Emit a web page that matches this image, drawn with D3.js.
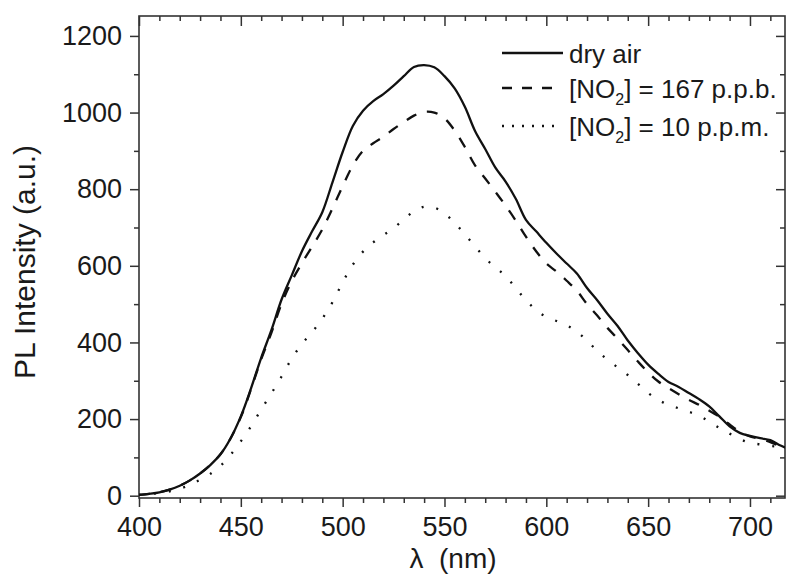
<!DOCTYPE html>
<html>
<head>
<meta charset="utf-8">
<script src="https://cdn.jsdelivr.net/npm/d3@7/dist/d3.min.js"></script>
<style>
  html, body { margin: 0; padding: 0; background: #fff; }
  svg { display: block; }
  text { font-family: "Liberation Sans", Arial, sans-serif; fill: #1a1a1a; }
</style>
</head>
<body>
<div id="chart"></div>
<script>
// ---- data ----
const wavelengths = [400,405,410,415,420,425,430,435,440,445,450,455,460,465,470,475,480,485,490,495,
  500,505,510,515,520,525,530,535,540,545,550,555,560,565,570,575,580,585,590,595,
  600,605,610,615,620,625,630,635,640,645,650,655,660,665,670,675,680,685,690,695,
  700,705,710,715,720];

const dryAir = [2,5,9,16,26,40,58,80,108,150,207,280,360,432,512,575,638,690,740,818,
  897,965,1005,1030,1048,1070,1095,1119,1124,1118,1095,1063,1015,952,905,856,820,775,720,690,
  660,632,606,580,542,510,475,443,405,372,342,318,297,284,268,252,233,207,181,164,
  156,150,145,131,120];

const no2_167ppb = [2,5,9,16,26,40,58,80,108,150,205,278,356,425,501,560,607,650,695,750,
  808,862,900,920,937,957,975,992,1002,1000,985,953,910,862,828,793,757,718,676,638,
  606,585,561,535,500,470,438,410,380,350,322,298,281,265,250,237,222,206,186,167,
  155,148,140,128,118];

const no2_10ppm = [2,4,7,11,18,28,42,57,78,107,142,181,225,267,311,358,396,427,462,505,
  557,603,637,661,680,698,721,742,754,752,737,712,682,651,620,596,573,542,510,485,
  466,456,445,428,405,378,355,335,315,292,268,250,237,228,219,209,193,177,162,148,
  138,134,130,127,120];

const xTicks = [400,450,500,550,600,650,700];
const yTicks = [0,200,400,600,800,1000,1200];
const seriesNames = ["dry air", "[NO2] = 167 p.p.b.", "[NO2] = 10 p.p.m."];

// ---- layout ----
const W = 786, H = 578;
const mLeft = 139, mRight = 785, mTop = 16, mBottom = 498;

const svg = d3.select("#chart").append("svg").attr("width", W).attr("height", H);

const x = d3.scaleLinear().domain([400, 717.2]).range([mLeft, mRight]);
const y = d3.scaleLinear().domain([-6, 1252]).range([mBottom, mTop]);

const axisColor = "#333";
const fontTick = 27;

// clip
svg.append("defs").append("clipPath").attr("id", "clip")
  .append("rect").attr("x", mLeft).attr("y", mTop).attr("width", mRight - mLeft).attr("height", mBottom - mTop);

// minor tick values
const xMinor = d3.range(400, 718, 10).filter(v => v % 50 !== 0);
const yMinor = d3.range(100, 1252, 200);

// bottom axis (outward)
const gB = svg.append("g").attr("transform", `translate(0,${mBottom})`);
gB.call(d3.axisBottom(x).tickValues(xTicks).tickSize(9).tickPadding(10).tickFormat(d3.format("d")));
gB.append("g").call(d3.axisBottom(x).tickValues(xMinor).tickSize(5).tickFormat(""));
// left axis (outward)
const gL = svg.append("g").attr("transform", `translate(${mLeft},0)`);
gL.call(d3.axisLeft(y).tickValues(yTicks).tickSize(9).tickPadding(8).tickFormat(d3.format("d")));
gL.append("g").call(d3.axisLeft(y).tickValues(yMinor).tickSize(5).tickFormat(""));
// top axis (inward)
const gT = svg.append("g").attr("transform", `translate(0,${mTop})`);
gT.call(d3.axisBottom(x).tickValues(xTicks).tickSize(10).tickFormat(""));
gT.append("g").call(d3.axisBottom(x).tickValues(xMinor).tickSize(5).tickFormat(""));
// right axis (inward)
const gR = svg.append("g").attr("transform", `translate(${mRight},0)`);
gR.call(d3.axisLeft(y).tickValues(yTicks).tickSize(9).tickFormat(""));
gR.append("g").call(d3.axisLeft(y).tickValues(yMinor).tickSize(5).tickFormat(""));

svg.selectAll(".domain").remove();
svg.selectAll(".tick line").attr("stroke", axisColor).attr("stroke-width", 1.5);
svg.selectAll(".tick text").attr("font-size", fontTick).attr("font-family", "Liberation Sans, Arial, sans-serif").attr("fill", "#1a1a1a");

// frame
svg.append("rect").attr("x", mLeft).attr("y", mTop).attr("width", mRight - mLeft).attr("height", mBottom - mTop)
  .attr("fill", "none").attr("stroke", axisColor).attr("stroke-width", 1.6);

// curves
const styles = [
  { data: dryAir, dash: null },
  { data: no2_167ppb, dash: "11,11" },
  { data: no2_10ppm, dash: "2,13" }
];
const line = d3.line().x((d, i) => x(wavelengths[i])).y(d => y(d)).curve(d3.curveCatmullRom.alpha(0.5));
const gC = svg.append("g").attr("clip-path", "url(#clip)");
styles.forEach(s => {
  gC.append("path").datum(s.data).attr("d", line)
    .attr("fill", "none").attr("stroke", "#111").attr("stroke-width", 2.3)
    .attr("stroke-dasharray", s.dash).attr("stroke-linecap", "butt");
});

// legend
const legY = [53, 88, 126];
const legDash = [null, "10,10", "2,8"];
const legEnd = [563, 553, 556];
const gLeg = svg.append("g");
seriesNames.forEach((name, i) => {
  gLeg.append("line").attr("x1", 502).attr("x2", legEnd[i]).attr("y1", legY[i]).attr("y2", legY[i])
    .attr("stroke", "#111").attr("stroke-width", 2.3).attr("stroke-dasharray", legDash[i]);
  const t = gLeg.append("text").attr("x", 569).attr("y", legY[i] + 10).attr("font-size", 26);
  if (name.indexOf("NO2") >= 0) {
    const parts = name.split("NO2");
    t.append("tspan").text(parts[0] + "NO");
    t.append("tspan").text("2").attr("font-size", 16).attr("dy", 7);
    t.append("tspan").text(parts[1]).attr("dy", -7);
  } else {
    t.text(name);
  }
});

// axis titles
svg.append("text").attr("x", 453).attr("y", 568).attr("text-anchor", "middle").attr("font-size", 28)
  .attr("xml:space", "preserve").text("λ  (nm)");
svg.append("text").attr("transform", `translate(35,${262}) rotate(-90)`).attr("text-anchor", "middle")
  .attr("font-size", 30).text("PL Intensity (a.u.)");
</script>
</body>
</html>
